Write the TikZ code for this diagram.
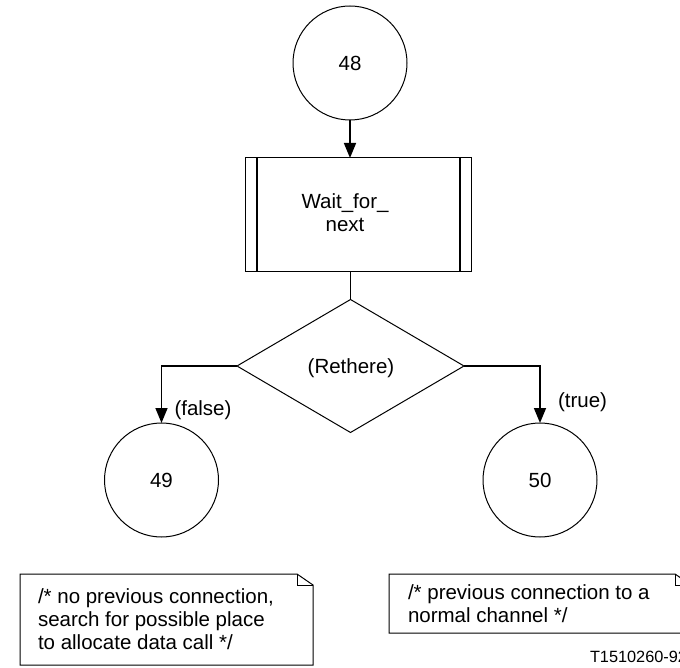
\documentclass[tikz,border=0pt]{standalone}
\usepackage{fontspec}
\setmainfont{Liberation Sans}
\usetikzlibrary{shapes.geometric,arrows.meta}
\begin{document}
\begin{tikzpicture}[x=1pt,y=-1pt,
  every node/.style={font=\fontsize{20.5}{23}\selectfont, inner sep=0pt, outer sep=0pt},
  conn/.style={line width=1.6pt},
  arr/.style={conn,-{Triangle[length=15pt,width=12pt]}},
  shp/.style={draw,line width=1pt},
  foldline/.style={line width=0.8pt},
]
\useasboundingbox (0,0) rectangle (680,668);
\clip (0,0) rectangle (680,668);

% connectors' nodes
\node[shp,circle,minimum size=114pt] (c48) at (350,63) {48};
\node[shp,rectangle,minimum width=226pt,minimum height=114pt] (wait) at (358,215) {};
\draw[conn] ([xshift=12pt]wait.north west) -- ([xshift=12pt]wait.south west);
\draw[conn] ([xshift=-11pt]wait.north east) -- ([xshift=-11pt]wait.south east);
\node[align=center] (waittext) at (345,213) {Wait\_for\_\\next};

\node[shp,diamond,minimum width=227pt,minimum height=133pt] (dia) at (350.5,366) {};
\node (diatext) at (351,368) {(Rethere)};

\node[shp,circle,minimum size=114pt] (c49) at (161.5,480) {49};
\node[shp,circle,minimum size=114pt] (c50) at (540,480) {50};

\draw[arr] (c48.south) -- (c48.south |- wait.north);
\draw[conn] (dia.north |- wait.south) -- (dia.north);
\draw[arr] (dia.west) -| (c49.north);
\draw[arr] (dia.east) -| (c50.north);

\node (lfalse) at (203,410) {(false)};
\node (ltrue) at (582.5,402) {(true)};

% comment 1
\draw[shp] (20,574) -- (297,574) -- (313,585) -- (313,665) -- (20,665) -- cycle;
\draw[foldline] (297,574) -- (297,585) -- (313,585);
\node[anchor=west,align=left] (note1) at (38,619) {/* no previous connection,\\search for possible place\\to allocate data call */};

% comment 2
\draw[shp] (389,574) -- (675,574) -- (691,585) -- (691,633) -- (389,633) -- cycle;
\draw[foldline] (675,574) -- (675,585) -- (691,585);
\node[anchor=west,align=left] (note2) at (408,604) {/* previous connection to a\\normal channel */};

\node[anchor=base west,font=\fontsize{16.3}{19}\selectfont] (tid) at (590,662) {T1510260-92};
\end{tikzpicture}
\end{document}
